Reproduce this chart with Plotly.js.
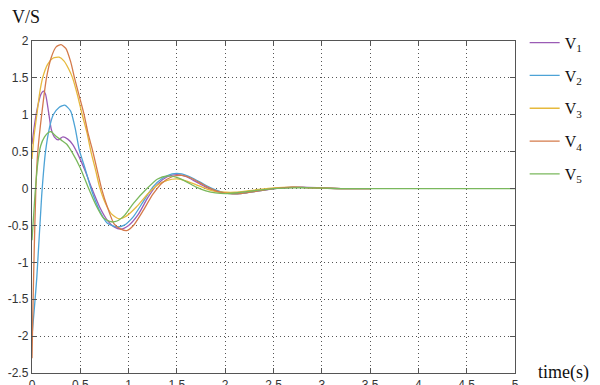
<!DOCTYPE html>
<html>
<head>
<meta charset="utf-8">
<script src="https://cdn.plot.ly/plotly-3.0.1.min.js"></script>
<style>html,body{margin:0;padding:0;background:#fff;}#chart{width:600px;height:385px;}</style>
</head>
<body>
<div id="chart"></div>
<script>
const seriesNames = ['V<sub>1</sub>', 'V<sub>2</sub>', 'V<sub>3</sub>', 'V<sub>4</sub>', 'V<sub>5</sub>'];
const xTickVals = [0, 0.5, 1, 1.5, 2, 2.5, 3, 3.5, 4, 4.5, 5];
const xTickText = ['0', '0.5', '1', '1.5', '2', '2.5', '3', '3.5', '4', '4.5', '5'];
const yTickVals = [-2.5, -2, -1.5, -1, -0.5, 0, 0.5, 1, 1.5, 2];
const yTickText = ['-2.5', '-2', '-1.5', '-1', '-0.5', '0', '0.5', '1', '1.5', '2'];

const t1 = [0, 0.03, 0.06, 0.09, 0.12, 0.14, 0.17, 0.2, 0.23, 0.27, 0.32, 0.37, 0.42, 0.47, 0.55, 0.62, 0.7, 0.78, 0.85, 0.92, 1.0, 1.1, 1.2, 1.3, 1.4, 1.5, 1.6, 1.7, 1.8, 1.9, 2.0, 2.1, 2.2, 2.4, 2.6, 2.8, 3.0, 3.2, 3.5];
const v1 = [0.6, 0.9, 1.12, 1.27, 1.32, 1.28, 1.05, 0.8, 0.7, 0.66, 0.7, 0.67, 0.6, 0.48, 0.24, 0.0, -0.25, -0.43, -0.52, -0.55, -0.5, -0.35, -0.12, 0.06, 0.16, 0.19, 0.16, 0.09, 0.02, -0.03, -0.06, -0.07, -0.06, -0.02, 0.01, 0.02, 0.01, 0.0, 0.0];

const t2 = [0, 0.05, 0.1, 0.14, 0.18, 0.22, 0.28, 0.34, 0.4, 0.45, 0.49, 0.55, 0.61, 0.7, 0.78, 0.88, 0.95, 1.05, 1.15, 1.25, 1.35, 1.45, 1.55, 1.65, 1.75, 1.85, 1.95, 2.05, 2.15, 2.3, 2.5, 2.7, 2.9, 3.2, 3.5];
const v2 = [-2.0, -1.2, -0.1, 0.5, 0.82, 1.0, 1.1, 1.13, 1.05, 0.8, 0.52, 0.27, 0.0, -0.3, -0.47, -0.52, -0.5, -0.38, -0.18, 0.02, 0.14, 0.2, 0.2, 0.15, 0.08, 0.01, -0.04, -0.07, -0.07, -0.04, 0.0, 0.02, 0.01, 0.0, 0.0];

const t3 = [0, 0.02, 0.05, 0.08, 0.11, 0.16, 0.22, 0.28, 0.33, 0.38, 0.42, 0.47, 0.52, 0.57, 0.61, 0.66, 0.7, 0.76, 0.82, 0.9, 0.98, 1.08, 1.2, 1.3, 1.4, 1.5, 1.6, 1.7, 1.8, 1.9, 2.0, 2.1, 2.3, 2.5, 2.7, 2.9, 3.2, 3.5];
const v3 = [0.4, 0.7, 1.0, 1.3, 1.5, 1.68, 1.77, 1.78, 1.73, 1.62, 1.5, 1.27, 1.0, 0.75, 0.5, 0.24, 0.02, -0.2, -0.34, -0.41, -0.37, -0.25, -0.07, 0.05, 0.11, 0.13, 0.1, 0.05, 0.0, -0.04, -0.05, -0.05, -0.02, 0.01, 0.02, 0.01, 0.0, 0.0];

const t4 = [0, 0.01, 0.02, 0.04, 0.06, 0.1, 0.15, 0.2, 0.25, 0.3, 0.35, 0.4, 0.44, 0.49, 0.54, 0.58, 0.63, 0.68, 0.72, 0.78, 0.85, 0.92, 0.98, 1.05, 1.15, 1.25, 1.35, 1.45, 1.55, 1.65, 1.75, 1.85, 1.95, 2.05, 2.15, 2.3, 2.5, 2.7, 2.9, 3.2, 3.5];
const v4 = [-2.3, -1.6, -1.0, 0.0, 0.5, 1.0, 1.5, 1.78, 1.92, 1.95, 1.9, 1.72, 1.5, 1.25, 1.0, 0.75, 0.5, 0.22, 0.0, -0.25, -0.48, -0.55, -0.57, -0.5, -0.3, -0.08, 0.08, 0.16, 0.18, 0.14, 0.07, 0.0, -0.05, -0.07, -0.07, -0.04, 0.0, 0.02, 0.01, 0.0, 0.0];

const t5 = [0, 0.03, 0.06, 0.09, 0.13, 0.17, 0.2, 0.24, 0.3, 0.36, 0.42, 0.5, 0.58, 0.66, 0.74, 0.82, 0.88, 0.96, 1.05, 1.19, 1.3, 1.4, 1.5, 1.6, 1.7, 1.8, 1.9, 2.0, 2.1, 2.3, 2.5, 2.7, 2.9, 3.2, 4.0, 5.0];
const v5 = [-0.7, -0.1, 0.35, 0.58, 0.7, 0.76, 0.77, 0.72, 0.66, 0.6, 0.48, 0.28, 0.02, -0.22, -0.4, -0.45, -0.44, -0.36, -0.2, 0.0, 0.13, 0.17, 0.15, 0.09, 0.02, -0.03, -0.06, -0.07, -0.06, -0.03, 0.0, 0.01, 0.01, 0.0, 0.0, 0.0];

const colors = ['#9a5bb5', '#4da3d6', '#e6b93c', '#d47a4a', '#7ab85c'];
const xs = [t1, t2, t3, t4, t5];
const ys = [v1, v2, v3, v4, v5];

const traces = xs.map((x, i) => ({
  x: x, y: ys[i], type: 'scatter', mode: 'lines', name: seriesNames[i],
  legendgroup: 'g' + i,
  line: {color: colors[i], width: 1.3, shape: 'spline', smoothing: 0.6}
}));

const serif = '"Liberation Serif", "Times New Roman", "DejaVu Serif", serif';

const axisCommon = {
  showgrid: true, gridcolor: '#555', griddash: '1px,3px', gridwidth: 1,
  zeroline: false, showline: true, linecolor: '#555', linewidth: 1.2,
  mirror: 'ticks', ticks: 'inside', ticklen: 5, tickcolor: '#555',
  tickfont: {family: 'Liberation Sans', size: 12, color: '#333'}
};

const layout = {
  width: 600, height: 385,
  margin: {l: 32, r: 81, t: 41, b: 12},
  paper_bgcolor: '#fff', plot_bgcolor: '#fff',
  showlegend: true,
  xaxis: Object.assign({}, axisCommon, {range: [0, 5], tickvals: xTickVals, ticktext: xTickText}),
  yaxis: Object.assign({}, axisCommon, {range: [-2.5, 2], tickvals: yTickVals, ticktext: yTickText}),
  legend: {
    x: 1.02, y: 1.046, xanchor: 'left', yanchor: 'top',
    font: {family: serif, size: 16, color: '#111'},
    tracegroupgap: 9, traceorder: 'grouped', bgcolor: 'rgba(0,0,0,0)'
  },
  annotations: [
    {text: 'V/S', xref: 'paper', yref: 'paper', x: -0.045, y: 1.072, xanchor: 'left', yanchor: 'middle', showarrow: false,
     font: {family: serif, size: 18, color: '#111'}},
    {text: 'time(s)', xref: 'paper', yref: 'paper', x: 1.043, y: 0.003, xanchor: 'left', yanchor: 'middle', showarrow: false,
     font: {family: serif, size: 18, color: '#111'}}
  ]
};

Plotly.newPlot('chart', traces, layout, {displayModeBar: false, staticPlot: true});
</script>
</body>
</html>
